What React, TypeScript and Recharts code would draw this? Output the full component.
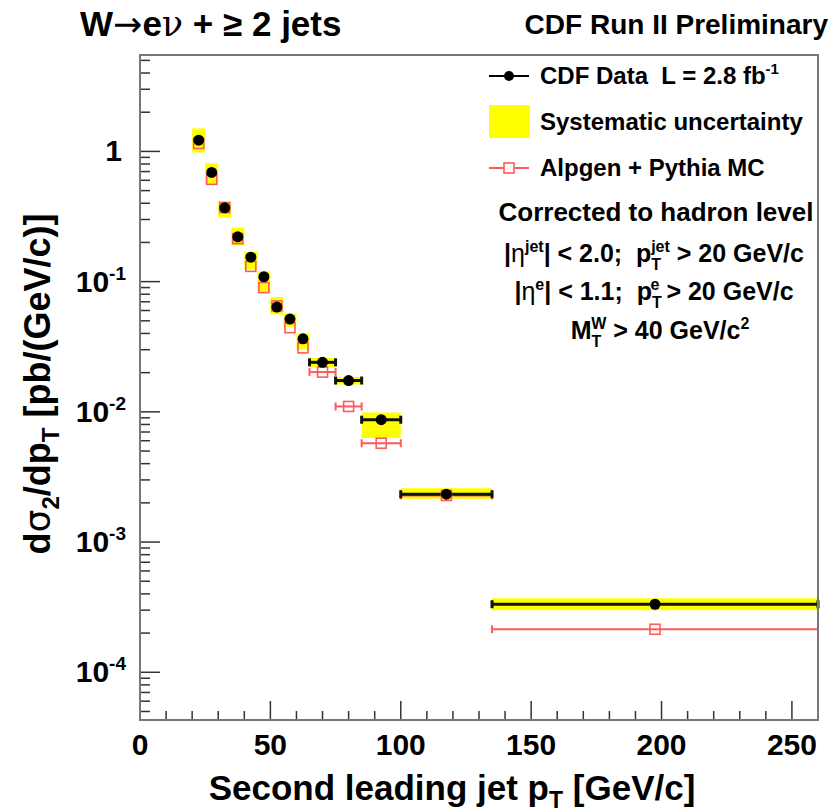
import React from 'react';
import { ComposedChart, Scatter, XAxis, YAxis, ErrorBar, ReferenceArea } from 'recharts';

// bins of second leading jet pT [GeV/c]
const binLow = [20, 25, 30, 35, 40, 45, 50, 55, 60, 65, 75, 85, 100, 135];
const binHigh = [25, 30, 35, 40, 45, 50, 55, 60, 65, 75, 85, 100, 135, 260];
const binCenter = [22.5, 27.5, 32.5, 37.5, 42.5, 47.5, 52.5, 57.5, 62.5, 70, 80, 92.5, 117.5, 197.5];

// dsigma/dpT [pb/(GeV/c)]
const cdfData = [1.22, 0.69, 0.369, 0.221, 0.154, 0.109, 0.0638, 0.0516, 0.0364, 0.024, 0.0174, 0.0087, 0.00233, 0.000333];
const sysLow = [0.98, 0.557, 0.31, 0.19, 0.124, 0.082, 0.056, 0.045, 0.03, 0.022, 0.0162, 0.0063, 0.00215, 0.0003];
const sysHigh = [1.5, 0.81, 0.415, 0.26, 0.17, 0.12, 0.076, 0.057, 0.04, 0.026, 0.0185, 0.0099, 0.00259, 0.00037];
const mcData = [1.15, 0.61, 0.37, 0.214, 0.131, 0.09, 0.065, 0.0443, 0.031, 0.0202, 0.011, 0.00574, 0.00228, 0.000214];

const xTicks = [0, 10, 20, 30, 40, 50, 60, 70, 80, 90, 100, 110, 120, 130, 140, 150, 160, 170, 180, 190, 200, 210, 220, 230, 240, 250, 260];
const xMajor = [0, 50, 100, 150, 200, 250];
const yDecades = [-5, -4, -3, -2, -1, 0];
const yLabels: Record<string, string> = { '0': '1', '-1': '-1', '-2': '-2', '-3': '-3', '-4': '-4' };

const Y_MIN = 4.3e-5;
const Y_MAX = 5.5;

const yTicks: number[] = [];
yDecades.forEach((d) => {
  for (let m = 1; m <= 9; m++) {
    const v = m * Math.pow(10, d);
    if (v >= Y_MIN && v <= Y_MAX) yTicks.push(v);
  }
});

const font = '"Liberation Sans", Arial, Helvetica, sans-serif';
const RED = '#ff5a5a';

// ROOT hides error bars that are shorter than the marker
const xErrOf = (i: number) => (binHigh[i] - binLow[i] > 5 ? [binCenter[i] - binLow[i], binHigh[i] - binCenter[i]] : null);
const dataRows = binCenter.map((x, i) => ({ x, y: cdfData[i], xErr: xErrOf(i) }));
const mcRows = binCenter.map((x, i) => ({ x, y: mcData[i], xErr: xErrOf(i) }));

const XTick = (props: any) => {
  const { x, y, payload } = props;
  const v = payload.value;
  const major = xMajor.includes(v);
  return (
    <g>
      <line x1={x} x2={x} y1={y} y2={y - (major ? 19 : 9)} stroke="#333" strokeWidth={1.5} />
      {major && (
        <text x={x} y={y + 35} textAnchor="middle" fontFamily={font} fontWeight={700} fontSize={30} fill="#000">
          {v}
        </text>
      )}
    </g>
  );
};

const YTick = (props: any) => {
  const { x, y, payload } = props;
  const v = payload.value;
  const lg = Math.log10(v);
  const d = Math.round(lg);
  const major = Math.abs(lg - d) < 1e-6;
  const label = major ? yLabels[String(d)] : undefined;
  return (
    <g>
      <line x1={x} x2={x + (major ? 20 : 10)} y1={y} y2={y} stroke="#333" strokeWidth={1.5} />
      {label === '1' && (
        <text x={x - 18} y={y + 10} textAnchor="end" fontFamily={font} fontWeight={700} fontSize={30} fill="#000">
          1
        </text>
      )}
      {label && label !== '1' && (
        <text x={x - 14} y={y + 10} textAnchor="end" fontFamily={font} fontWeight={700} fontSize={30} fill="#000">
          10<tspan dy={-12} fontSize={19}>{label}</tspan>
        </text>
      )}
    </g>
  );
};

const DataDot = (props: any) => <circle cx={props.cx} cy={props.cy} r={5.5} fill="#000" />;
const McSquare = (props: any) => (
  <rect x={props.cx - 5} y={props.cy - 5} width={10} height={10} fill="none" stroke={RED} strokeWidth={1.6} />
);

export default function App() {
  return (
    <div style={{ position: 'absolute', left: 0, top: 0, width: 832, height: 812, background: '#fff' }}>
      <ComposedChart width={832} height={812} margin={{ top: 55, right: 14, left: 0, bottom: 0 }}>
        <XAxis
          dataKey="x"
          type="number"
          domain={[0, 260]}
          ticks={xTicks}
          interval={0}
          allowDataOverflow
          axisLine={false}
          tickLine={false}
          tickSize={0}
          tickMargin={0}
          height={92}
          tick={<XTick />}
        />
        <YAxis
          type="number"
          scale="log"
          domain={[Y_MIN, Y_MAX]}
          ticks={yTicks}
          interval={0}
          allowDataOverflow
          axisLine={false}
          tickLine={false}
          tickSize={0}
          tickMargin={0}
          width={140}
          tick={<YTick />}
        />
        {binCenter.map((_, i) => (
          <ReferenceArea
            key={'sys' + i}
            x1={binLow[i]}
            x2={binHigh[i]}
            y1={sysLow[i]}
            y2={sysHigh[i]}
            fill="#ffff00"
            fillOpacity={1}
            stroke="none"
          />
        ))}
        <Scatter data={mcRows} dataKey="y" shape={<McSquare />} isAnimationActive={false}>
          <ErrorBar dataKey="xErr" direction="x" stroke={RED} strokeWidth={2} width={4} isAnimationActive={false} />
        </Scatter>
        <Scatter data={dataRows} dataKey="y" shape={<DataDot />} isAnimationActive={false}>
          <ErrorBar dataKey="xErr" direction="x" stroke="#111" strokeWidth={3} width={4} isAnimationActive={false} />
        </Scatter>
      </ComposedChart>

      <svg width={832} height={812} style={{ position: 'absolute', left: 0, top: 0, pointerEvents: 'none' }} fontFamily={font}>
        <rect x={140} y={55} width={678} height={665} fill="none" stroke="#777" strokeWidth={2} />

        {/* titles */}
        <text x={80} y={36} fontSize={35} fontWeight={700}>
          W<tspan fontWeight={400} fontFamily="DejaVu Sans">→</tspan>e<tspan fontWeight={400} fontFamily="DejaVu Serif">ν</tspan> + ≥ 2 jets
        </text>
        <text x={828} y={34} fontSize={28} fontWeight={700} textAnchor="end">CDF Run II Preliminary</text>

        {/* legend */}
        <line x1={489} x2={529} y1={76} y2={76} stroke="#000" strokeWidth={2} />
        <circle cx={509} cy={76} r={5} fill="#000" />
        <text x={540} y={84} fontSize={24} fontWeight={700}>
          {'CDF Data\u00a0\u00a0L = 2.8 fb'}<tspan dy={-10} fontSize={15}>-1</tspan>
        </text>
        <rect x={489} y={105} width={41} height={33} fill="#ffff00" />
        <text x={540} y={130} fontSize={24} fontWeight={700}>Systematic uncertainty</text>
        <line x1={489} x2={529} y1={168} y2={168} stroke={RED} strokeWidth={2} />
        <rect x={504} y={163} width={10} height={10} fill="#fff" stroke={RED} strokeWidth={1.6} />
        <text x={540} y={176} fontSize={24} fontWeight={700}>Alpgen + Pythia MC</text>

        <text x={656} y={221} fontSize={26} fontWeight={700} textAnchor="middle">Corrected to hadron level</text>
        <text x={654} y={262} fontSize={25} fontWeight={700} textAnchor="middle">
          |<tspan fontWeight={400}>η</tspan><tspan dy={-10} fontSize={16}>jet</tspan>
          <tspan dy={10}>{'| < 2.0;\u00a0\u00a0p'}</tspan>
          <tspan dy={8} fontSize={16}>T</tspan>
          <tspan dx={-10} dy={-18} fontSize={16}>jet</tspan>
          <tspan dy={10}>{' > 20 GeV/c'}</tspan>
        </text>
        <text x={654} y={300} fontSize={25} fontWeight={700} textAnchor="middle">
          |<tspan fontWeight={400}>η</tspan><tspan dy={-10} fontSize={16}>e</tspan>
          <tspan dy={10}>{'| < 1.1;\u00a0\u00a0p'}</tspan>
          <tspan dy={8} fontSize={16}>T</tspan>
          <tspan dx={-10} dy={-18} fontSize={16}>e</tspan>
          <tspan dy={10}>{' > 20 GeV/c'}</tspan>
        </text>
        <text x={660} y={339} fontSize={25} fontWeight={700} textAnchor="middle">
          M<tspan dy={8} fontSize={16}>T</tspan>
          <tspan dx={-10} dy={-18} fontSize={16}>W</tspan>
          <tspan dy={10}>{' > 40 GeV/c'}</tspan>
          <tspan dy={-10} fontSize={16}>2</tspan>
        </text>

        {/* axis titles */}
        <text x={452} y={800} fontSize={35} fontWeight={700} textAnchor="middle">
          Second leading jet p<tspan dy={8} fontSize={23}>T</tspan><tspan dy={-8}> [GeV/c]</tspan>
        </text>
        <text x={0} y={0} transform="translate(50,384) rotate(-90)" fontSize={36} fontWeight={700} textAnchor="middle">
          d<tspan fontFamily="DejaVu Sans" fontWeight={400}>σ</tspan><tspan dy={9} fontSize={24}>2</tspan>
          <tspan dy={-9}>/dp</tspan><tspan dy={9} fontSize={24}>T</tspan><tspan dy={-9}> [pb/(GeV/c)]</tspan>
        </text>
      </svg>
    </div>
  );
}
